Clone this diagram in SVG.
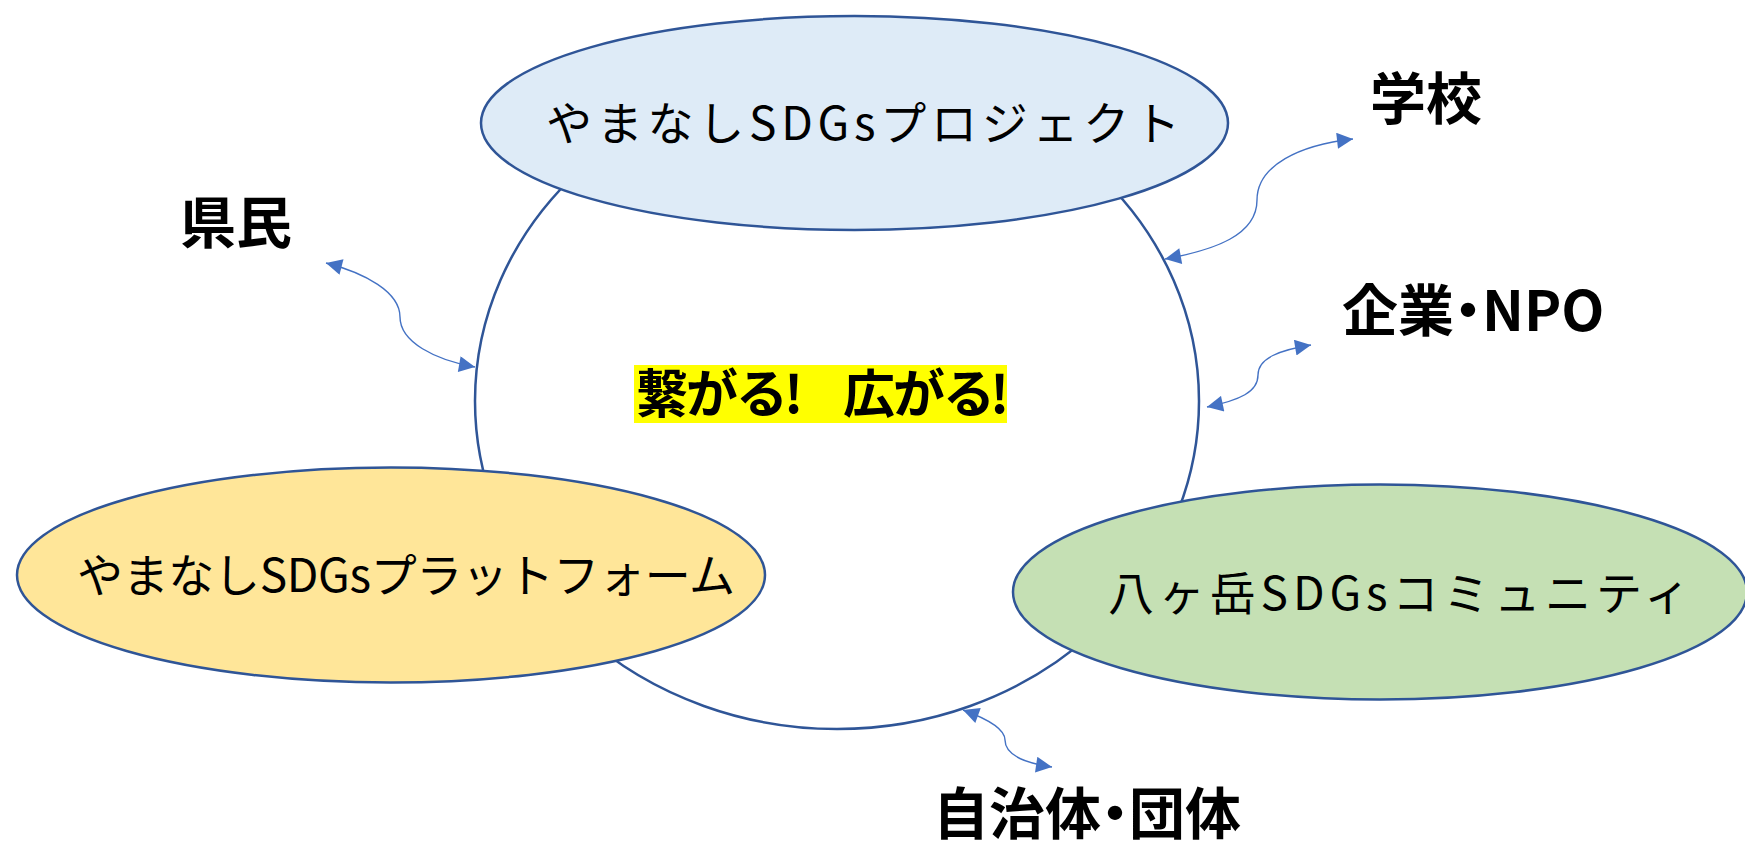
<svg xmlns="http://www.w3.org/2000/svg" width="1745" height="844" viewBox="0 0 1745 844">
<defs>
<style>
.ring{stroke:#2F5597;stroke-width:2.5}
.lbl{font-family:"Noto Sans CJK JP","Noto Sans",sans-serif;font-size:46px;fill:#000}
.big{font-family:"Noto Sans CJK JP","Noto Sans",sans-serif;font-size:56px;font-weight:bold;fill:#000;font-feature-settings:"palt"}
.hl{font-family:"Noto Sans CJK JP","Noto Sans",sans-serif;font-size:52px;font-weight:bold;fill:#000;white-space:pre}
.con{fill:none;stroke:#4472C4;stroke-width:1.4;marker-start:url(#ah);marker-end:url(#ah)}
</style>
<marker id="ah" viewBox="0 0 10 10" refX="10" refY="5" markerUnits="userSpaceOnUse" markerWidth="20" markerHeight="16" orient="auto-start-reverse">
<path d="M0,0 L10,5 L0,10 z" fill="#4472C4"/>
</marker>
</defs>
<rect width="1745" height="844" fill="#FFFFFF"/>
<g id="hub">
<ellipse class="ring" cx="837" cy="401" rx="362" ry="328" fill="#FFFFFF"/>
<rect x="634" y="365" width="373" height="58" fill="#FFFF00"/>
<text class="hl" x="636 686 736 784 810 825 843 893 943 990" y="413" xml:space="preserve">繋がる!  広がる!</text>
</g>
<g id="project">
<ellipse class="ring" cx="854.5" cy="123" rx="373.5" ry="107" fill="#DEEBF7"/>
<text class="lbl" x="546" y="140" textLength="634" lengthAdjust="spacing">やまなしSDGsプロジェクト</text>
</g>
<g id="platform">
<ellipse class="ring" cx="391" cy="575" rx="374" ry="107.5" fill="#FFE699"/>
<text class="lbl" x="77" y="592" textLength="658" lengthAdjust="spacing">やまなしSDGsプラットフォーム</text>
</g>
<g id="community">
<ellipse class="ring" cx="1380" cy="592" rx="367" ry="107.5" fill="#C5E0B4"/>
<text class="lbl" x="1108" y="610" textLength="582" lengthAdjust="spacing">八ヶ岳SDGsコミュニティ</text>
</g>
<g id="kenmin"><text class="big" x="180" y="243">県民</text></g>
<g id="gakko"><text class="big" x="1370" y="119">学校</text></g>
<g id="kigyo"><text class="big" x="1342" y="331">企業・NPO</text></g>
<g id="jichitai"><text class="big" x="933" y="834">自治体・団体</text></g>
<g id="connectors">
<path class="con" d="M326,263 C365,273 400,292 400,317 C400,342 435,360 475,367"/>
<path class="con" d="M1165,259 C1215,250 1257,235 1257,200 C1257,165 1300,145 1353,139"/>
<path class="con" d="M1207,407 C1240,400 1258,392 1258,375 C1258,358 1280,350 1311,345"/>
<path class="con" d="M963,710 C985,718 1005,728 1005,740 C1005,755 1025,763 1052,767"/>
</g>
</svg>
